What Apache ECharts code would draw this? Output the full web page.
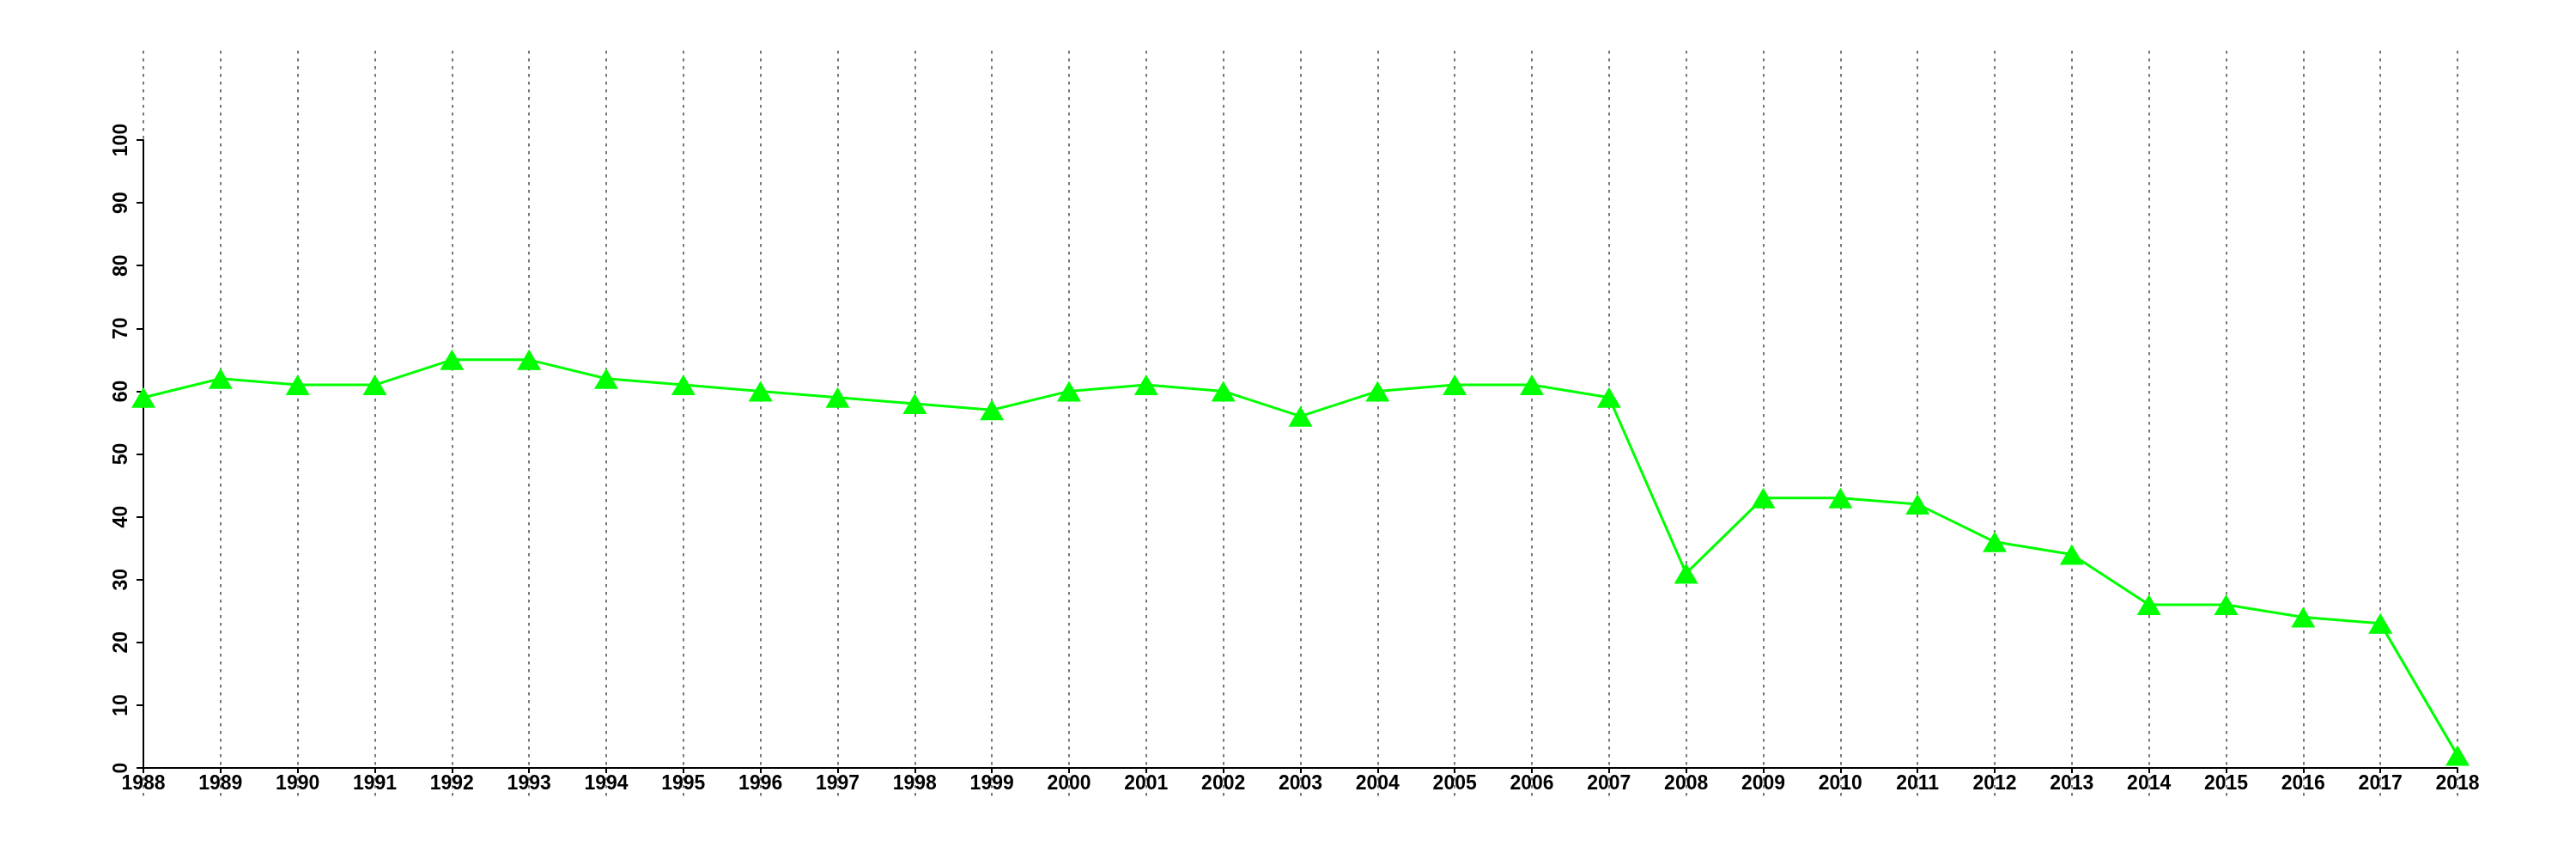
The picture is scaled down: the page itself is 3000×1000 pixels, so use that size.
<!DOCTYPE html>
<html>
<head>
<meta charset="utf-8">
<script src="https://cdn.jsdelivr.net/npm/echarts@6/dist/echarts.min.js"></script>
<style>
html,body{margin:0;padding:0;background:#fff;}
#chart{width:3000px;height:1000px;}
</style>
</head>
<body>
<div id="chart"></div>
<script>
const years = [1988,1989,1990,1991,1992,1993,1994,1995,1996,1997,1998,1999,2000,2001,2002,2003,2004,2005,2006,2007,2008,2009,2010,2011,2012,2013,2014,2015,2016,2017,2018];
const values = [59,62,61,61,65,65,62,61,60,59,58,57,60,61,60,56,60,61,61,59,31,43,43,42,36,34,26,26,24,23,2];
const yTicks = {min: 0, max: 100, interval: 10};

const chart = echarts.init(document.getElementById('chart'), null, {renderer: 'canvas'});
const font = {fontFamily: '"Liberation Sans", Arial, sans-serif', fontWeight: 'bold', fontSize: 23, color: '#000'};

chart.setOption({
  backgroundColor: '#fff',
  animation: false,
  grid: [
    {left: 167, right: 138, top: 163, bottom: 106},
    {left: 167, right: 138, top: 59, bottom: 73}
  ],
  xAxis: [
    {
      type: 'value', gridIndex: 0, min: years[0], max: years[years.length-1], interval: 1,
      axisLine: {show: true, onZero: false, lineStyle: {color: '#000', width: 2}},
      axisTick: {show: true, length: 6, lineStyle: {color: '#000', width: 2}},
      axisLabel: Object.assign({margin: 7, formatter: v => String(v)}, font),
      splitLine: {show: false}
    },
    {
      type: 'value', gridIndex: 1, min: years[0], max: years[years.length-1], interval: 1,
      axisLine: {show: false}, axisTick: {show: false}, axisLabel: {show: false},
      splitLine: {show: true, lineStyle: {color: '#777', width: 2, type: [3.5, 5.5]}}
    }
  ],
  yAxis: [
    {
      type: 'value', gridIndex: 0, min: yTicks.min, max: yTicks.max, interval: yTicks.interval,
      axisLine: {show: true, lineStyle: {color: '#000', width: 2}},
      axisTick: {show: true, length: 8, lineStyle: {color: '#000', width: 2}},
      axisLabel: Object.assign({rotate: 90, margin: 14}, font),
      splitLine: {show: false}
    },
    {
      type: 'value', gridIndex: 1, min: 0, max: 1,
      axisLine: {show: false}, axisTick: {show: false}, axisLabel: {show: false}, splitLine: {show: false}
    }
  ],
  series: [{
    type: 'line',
    xAxisIndex: 0, yAxisIndex: 0,
    data: years.map((y, i) => [y, values[i]]),
    symbol: 'triangle',
    symbolSize: [28, 24],
    itemStyle: {color: '#00ff00'},
    lineStyle: {color: '#00ff00', width: 3},
    z: 5
  }]
});
</script>
</body>
</html>
